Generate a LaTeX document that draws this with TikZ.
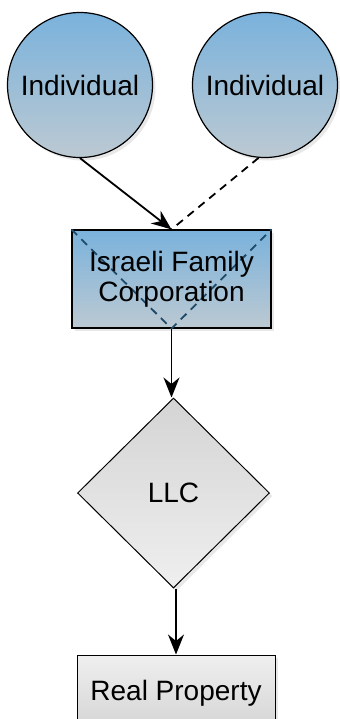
\documentclass[tikz,border=0pt]{standalone}
\usepackage{fontspec}
\setmainfont{Liberation Sans}
\usetikzlibrary{shapes.geometric,arrows.meta,shadows}
\definecolor{bluetop}{HTML}{7AB2DC}
\definecolor{bluebot}{HTML}{BCC9D2}
\definecolor{graytop}{HTML}{D4D4D4}
\definecolor{graybot}{HTML}{EFEFEF}
\definecolor{vline}{HTML}{1E4A68}
\tikzset{
  lbl/.style={font=\fontsize{14}{15}\selectfont, align=center, text=black},
  shad/.style={drop shadow={opacity=0.18, shadow xshift=1.5pt, shadow yshift=-1.5pt}},
  person/.style={circle, draw=black, line width=0.6pt, minimum size=72.5pt, inner sep=0pt,
    top color=bluetop, bottom color=bluebot, shad, lbl},
  corp/.style={rectangle, draw=black, line width=0.6pt, minimum width=99.5pt, minimum height=49pt,
    inner sep=0pt, top color=bluetop, bottom color=bluebot, shad, lbl},
  llcbox/.style={diamond, aspect=1, draw=black, line width=0.5pt, minimum width=96pt, minimum height=95pt,
    inner sep=0pt, top color=graytop, bottom color=graybot, shad, lbl},
  propbox/.style={rectangle, draw=black, line width=0.5pt, minimum width=99pt, minimum height=38pt,
    inner sep=0pt, top color=graybot, bottom color=graytop, shad, lbl},
  conn/.style={line width=0.9pt, draw=black, -{Stealth[length=10pt,width=8pt]}},
  dconn/.style={line width=0.9pt, draw=black, dash pattern=on 4pt off 3pt},
}
\begin{document}
\begin{tikzpicture}[x=0.5pt,y=-0.5pt]
\useasboundingbox (0,0) rectangle (339,719);
\node[person] (i1) at (80,85) {Individual};
\node[person] (i2) at (265,85) {Individual};
\node[corp] (ifc) at (171.5,279) {};
\draw[vline, line width=0.9pt, dash pattern=on 4pt off 3pt]
  (ifc.north west) -- (ifc.south) -- (ifc.north east);
\node[lbl] (ifct) at (ifc.center) {Israeli Family\\Corporation};
\node[llcbox] (llc) at (173.5,493) {LLC};
\node[propbox] (rp) at (176,693) {Real Property};
\draw[conn] (i1.south) -- (ifc.north);
\draw[dconn] (i2.265) -- (ifc.north);
\draw[conn] (ifc.south) -- (ifc.south |- llc.north);
\draw[conn] (rp.north |- llc.south) -- (rp.north);
\end{tikzpicture}
\end{document}
